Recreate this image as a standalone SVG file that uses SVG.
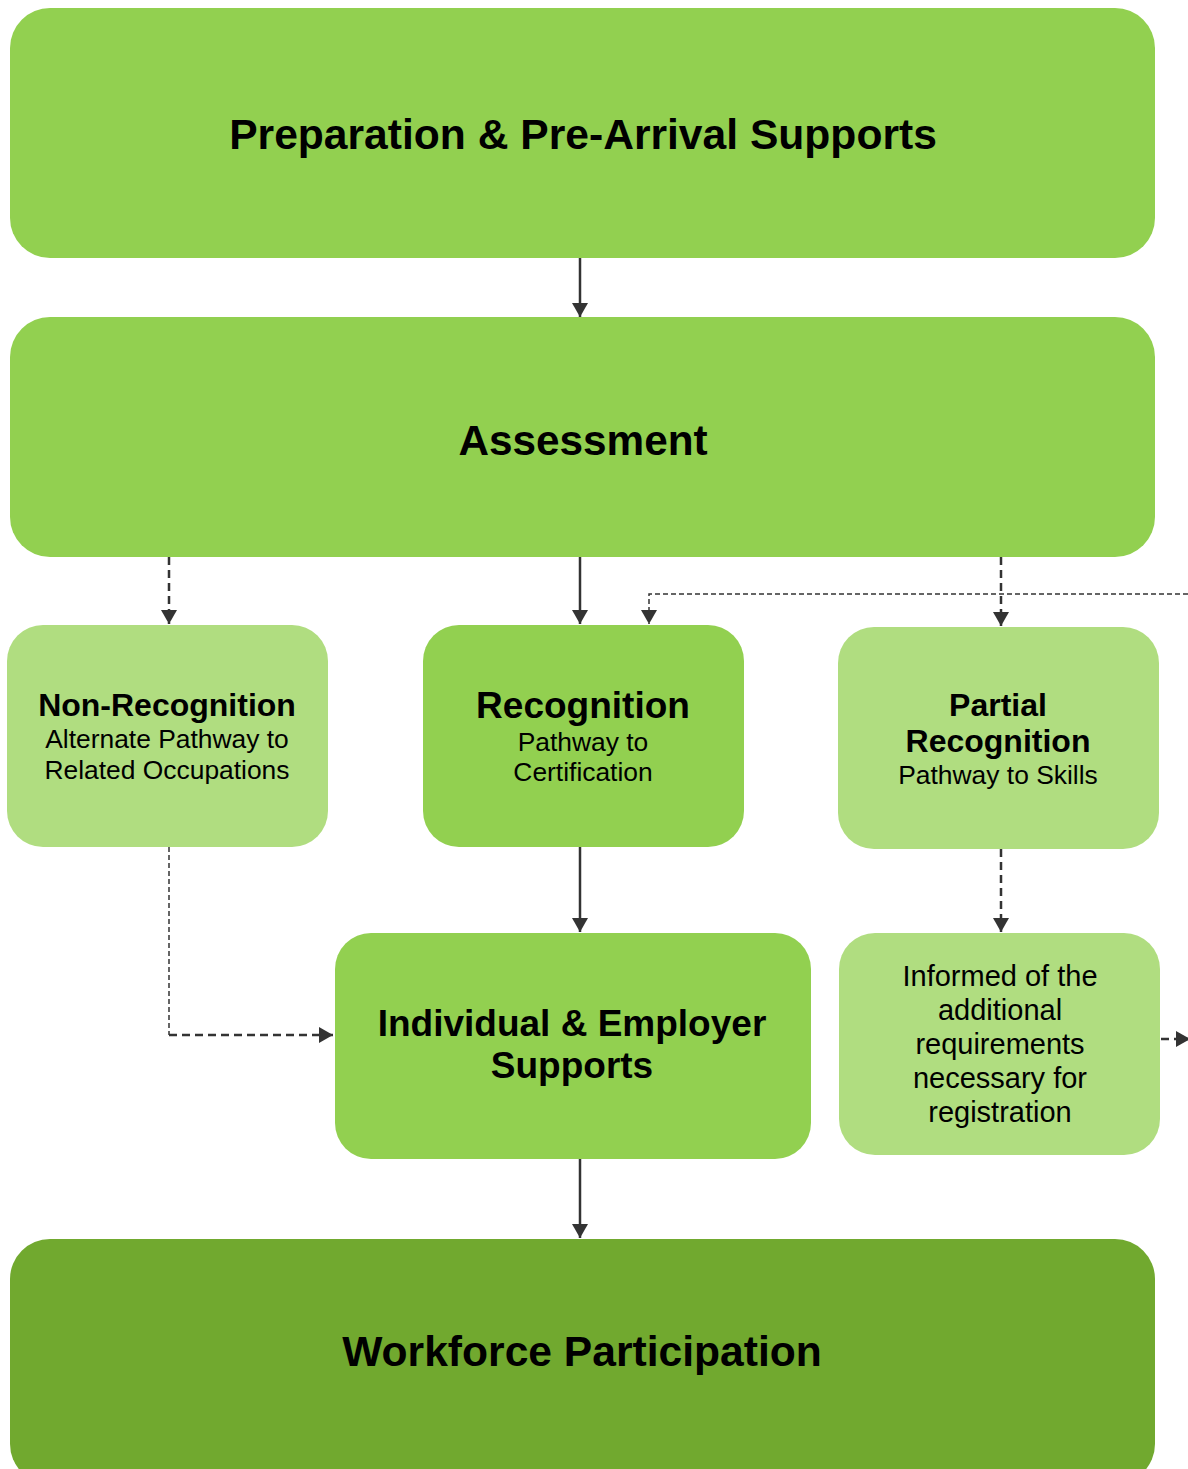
<svg xmlns="http://www.w3.org/2000/svg" width="1188" height="1469" viewBox="0 0 1188 1469">
<defs>
<style>
.main{fill:#92D050;}
.light{fill:#B0DD80;}
.dark{fill:#71A92F;}
text{font-family:"Liberation Sans",Arial,sans-serif;fill:#000;text-anchor:middle;}
.b{font-weight:bold;}
.c{fill:none;stroke:#333;}
.solid{stroke-width:2.5;}
.dash{stroke-width:2.5;stroke-dasharray:8 5;}
.dot{stroke-width:1.5;stroke-dasharray:5 3;}
</style>
<marker id="ah" viewBox="0 0 14 16" refX="14" refY="8" markerWidth="14" markerHeight="16" markerUnits="userSpaceOnUse" orient="auto">
<path d="M0,0 L14,8 L0,16 Z" fill="#333"/>
</marker>
</defs>
<rect width="1188" height="1469" fill="#fff"/>
<g id="connectors">
<line class="c solid" x1="580" y1="258" x2="580" y2="317" marker-end="url(#ah)"/>
<line class="c dash" x1="169" y1="557" x2="169" y2="624" marker-end="url(#ah)"/>
<line class="c solid" x1="580" y1="554" x2="580" y2="624" marker-end="url(#ah)"/>
<line class="c dash" x1="1001" y1="557" x2="1001" y2="626" marker-end="url(#ah)"/>
<polyline class="c dot" points="1188,594 649,594 649,624" marker-end="url(#ah)"/>
<line class="c solid" x1="580" y1="847" x2="580" y2="932" marker-end="url(#ah)"/>
<line class="c dash" x1="1001" y1="849" x2="1001" y2="932" marker-end="url(#ah)"/>
<line class="c dot" x1="169" y1="847" x2="169" y2="1035"/>
<line class="c dash" x1="169" y1="1035" x2="333" y2="1035" marker-end="url(#ah)"/>
<line class="c solid" x1="580" y1="1159" x2="580" y2="1238" marker-end="url(#ah)"/>
<line class="c dash" x1="1161" y1="1039" x2="1190" y2="1039" marker-end="url(#ah)"/>
</g>
<g id="node-preparation">
<rect class="main" x="10" y="8" width="1145" height="250" rx="40"/>
<text class="b" x="583" y="149" font-size="42.6">Preparation &amp; Pre-Arrival Supports</text>
</g>
<g id="node-assessment">
<rect class="main" x="10" y="317" width="1145" height="240" rx="40"/>
<text class="b" x="583" y="455" font-size="42.3">Assessment</text>
</g>
<g id="node-nonrecognition">
<rect class="light" x="7" y="625" width="321" height="222" rx="36"/>
<text class="b" x="167" y="716" font-size="32">Non-Recognition</text>
<text x="167" y="748" font-size="26.4">Alternate Pathway to</text>
<text x="167" y="779" font-size="26.4">Related Occupations</text>
</g>
<g id="node-recognition">
<rect class="main" x="423" y="625" width="321" height="222" rx="36"/>
<text class="b" x="583" y="718" font-size="37">Recognition</text>
<text x="583" y="751" font-size="26.4">Pathway to</text>
<text x="583" y="781" font-size="26.4">Certification</text>
</g>
<g id="node-partial">
<rect class="light" x="838" y="627" width="321" height="222" rx="36"/>
<text class="b" x="998" y="716" font-size="32">Partial</text>
<text class="b" x="998" y="752" font-size="32">Recognition</text>
<text x="998" y="784" font-size="26.4">Pathway to Skills</text>
</g>
<g id="node-individual">
<rect class="main" x="335" y="933" width="476" height="226" rx="36"/>
<text class="b" x="572" y="1036" font-size="37">Individual &amp; Employer</text>
<text class="b" x="572" y="1078" font-size="37">Supports</text>
</g>
<g id="node-informed">
<rect class="light" x="839" y="933" width="321" height="222" rx="36"/>
<text x="1000" y="986" font-size="29">Informed of the</text>
<text x="1000" y="1020" font-size="29">additional</text>
<text x="1000" y="1054" font-size="29">requirements</text>
<text x="1000" y="1088" font-size="29">necessary for</text>
<text x="1000" y="1122" font-size="29">registration</text>
</g>
<g id="node-workforce">
<rect class="dark" x="10" y="1239" width="1145" height="245" rx="40"/>
<text class="b" x="582" y="1366" font-size="42.6">Workforce Participation</text>
</g>
</svg>
